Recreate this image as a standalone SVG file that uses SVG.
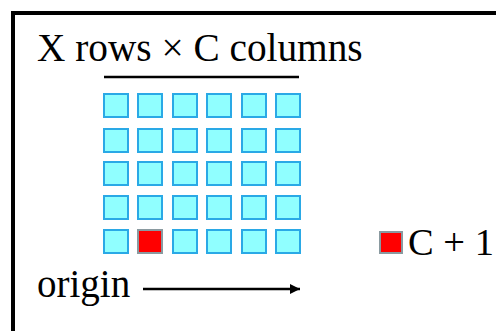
<svg xmlns="http://www.w3.org/2000/svg" width="496" height="331" viewBox="0 0 496 331">
<style>
.t{font-family:"Liberation Serif","Times New Roman",serif;fill:#000}
.c{fill:#90ffff;stroke:#2aa9e6;stroke-width:2}
.r{fill:#ff0000;stroke:#8a9aa0;stroke-width:2}
.ln{stroke:#000;stroke-width:2.5;fill:none}
</style>
<defs>
<marker id="ah" viewBox="0 0 10 10" refX="10" refY="5" markerWidth="4" markerHeight="4" orient="auto" markerUnits="strokeWidth">
<path d="M0,0 L10,5 L0,10 z" fill="#000"/>
</marker>
</defs>
<rect width="496" height="331" fill="#fff"/>
<rect x="13" y="13" width="500" height="340" fill="none" stroke="#000" stroke-width="4"/>
<g id="title"><text class="t" x="37" y="61" font-size="39.3">X rows × C columns</text></g>
<g id="grid">
<g id="r1c1"><rect class="c" x="104" y="94" width="24" height="23"/></g>
<g id="r1c2"><rect class="c" x="138" y="94" width="24" height="23"/></g>
<g id="r1c3"><rect class="c" x="173" y="94" width="24" height="23"/></g>
<g id="r1c4"><rect class="c" x="207" y="94" width="24" height="23"/></g>
<g id="r1c5"><rect class="c" x="242" y="94" width="24" height="23"/></g>
<g id="r1c6"><rect class="c" x="276" y="94" width="24" height="23"/></g>
<g id="r2c1"><rect class="c" x="104" y="129" width="24" height="23"/></g>
<g id="r2c2"><rect class="c" x="138" y="129" width="24" height="23"/></g>
<g id="r2c3"><rect class="c" x="173" y="129" width="24" height="23"/></g>
<g id="r2c4"><rect class="c" x="207" y="129" width="24" height="23"/></g>
<g id="r2c5"><rect class="c" x="242" y="129" width="24" height="23"/></g>
<g id="r2c6"><rect class="c" x="276" y="129" width="24" height="23"/></g>
<g id="r3c1"><rect class="c" x="104" y="162" width="24" height="23"/></g>
<g id="r3c2"><rect class="c" x="138" y="162" width="24" height="23"/></g>
<g id="r3c3"><rect class="c" x="173" y="162" width="24" height="23"/></g>
<g id="r3c4"><rect class="c" x="207" y="162" width="24" height="23"/></g>
<g id="r3c5"><rect class="c" x="242" y="162" width="24" height="23"/></g>
<g id="r3c6"><rect class="c" x="276" y="162" width="24" height="23"/></g>
<g id="r4c1"><rect class="c" x="104" y="196" width="24" height="23"/></g>
<g id="r4c2"><rect class="c" x="138" y="196" width="24" height="23"/></g>
<g id="r4c3"><rect class="c" x="173" y="196" width="24" height="23"/></g>
<g id="r4c4"><rect class="c" x="207" y="196" width="24" height="23"/></g>
<g id="r4c5"><rect class="c" x="242" y="196" width="24" height="23"/></g>
<g id="r4c6"><rect class="c" x="276" y="196" width="24" height="23"/></g>
<g id="r5c1"><rect class="c" x="104" y="230" width="24" height="23"/></g>
<g id="r5c2"><rect class="r" x="138" y="230" width="24" height="23"/></g>
<g id="r5c3"><rect class="c" x="173" y="230" width="24" height="23"/></g>
<g id="r5c4"><rect class="c" x="207" y="230" width="24" height="23"/></g>
<g id="r5c5"><rect class="c" x="242" y="230" width="24" height="23"/></g>
<g id="r5c6"><rect class="c" x="276" y="230" width="24" height="23"/></g>
</g>
<g id="legend">
<rect class="r" x="380" y="232" width="22" height="21"/>
<text class="t" x="408" y="255" font-size="38.5">C + 1</text>
</g>
<g id="origin"><text class="t" x="37" y="297" font-size="39">origin</text></g>
<g id="connectors">
<line class="ln" x1="104" y1="77" x2="299" y2="77"/>
<line class="ln" x1="143" y1="289" x2="300" y2="289" marker-end="url(#ah)"/>
</g>
</svg>
